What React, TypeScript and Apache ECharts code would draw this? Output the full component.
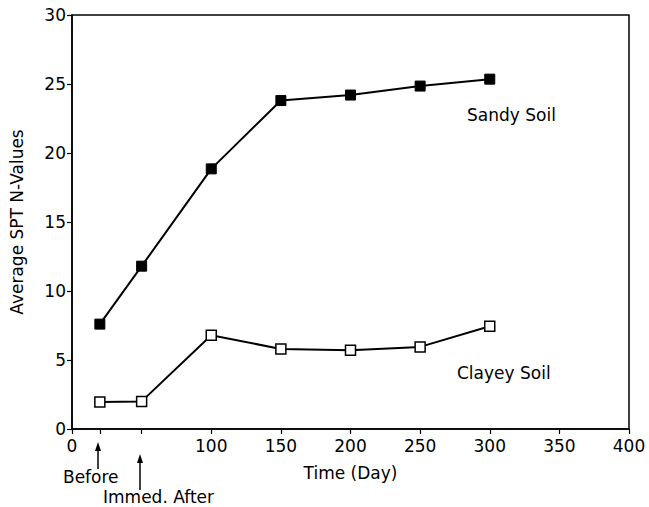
import React, { useEffect, useRef } from "react";
import * as echarts from "echarts";

const days = [20, 50, 100, 150, 200, 250, 300];
const sandyValues = [7.6, 11.8, 18.85, 23.8, 24.2, 24.85, 25.35];
const clayeyValues = [1.95, 2.0, 6.8, 5.8, 5.7, 5.95, 7.45];
const xTickValues = [0, 20, 50, 100, 150, 200, 250, 300, 350, 400];
const xLabelValues = [0, 100, 150, 200, 250, 300, 350, 400];
const seriesNames = ["Sandy Soil", "Clayey Soil"];

const FONT = "DejaVu Sans";

export default function App() {
  const ref = useRef<HTMLDivElement>(null);
  useEffect(() => {
    if (!ref.current) return;
    const chart = echarts.init(ref.current, null, { renderer: "svg" });
    const textStyle = { fontFamily: FONT, fontSize: 17, color: "#000" };
    chart.setOption({
      animation: false,
      backgroundColor: "#fff",
      grid: {
        left: 70,
        right: 20,
        top: 15,
        bottom: 78,
        show: true,
        borderColor: "#000",
        borderWidth: 1.5,
      },
      xAxis: {
        type: "value",
        min: 0,
        max: 400,
        interval: 50,
        name: "Time (Day)",
        nameLocation: "middle",
        nameGap: 35,
        nameTextStyle: textStyle,
        axisLine: { show: true, lineStyle: { color: "#000", width: 1.5 } },
        axisTick: { show: true, length: 5, customValues: xTickValues, lineStyle: { color: "#000", width: 1.2 } },
        axisLabel: { ...textStyle, margin: 8, customValues: xLabelValues },
        splitLine: { show: false },
      },
      yAxis: {
        type: "value",
        min: 0,
        max: 30,
        interval: 5,
        name: "Average SPT N-Values",
        nameLocation: "middle",
        nameGap: 47,
        nameTextStyle: textStyle,
        axisLine: { show: true, lineStyle: { color: "#000", width: 1.5 } },
        axisTick: { show: true, length: 5, lineStyle: { color: "#000", width: 1.2 } },
        axisLabel: { ...textStyle, margin: 6 },
        splitLine: { show: false },
      },
      series: [
        {
          name: seriesNames[0],
          type: "line",
          data: days.map((d, i) => [d, sandyValues[i]]),
          symbol: "rect",
          symbolSize: 10,
          itemStyle: { color: "#000", borderColor: "#000", borderWidth: 1 },
          lineStyle: { color: "#000", width: 2 },
        },
        {
          name: seriesNames[1],
          type: "line",
          data: days.map((d, i) => [d, clayeyValues[i]]),
          symbol: "rect",
          symbolSize: 10,
          itemStyle: { color: "#fff", borderColor: "#000", borderWidth: 1.5 },
          lineStyle: { color: "#000", width: 2 },
        },
      ],
      graphic: [
        {
          type: "text",
          left: 467,
          top: 106,
          style: { text: seriesNames[0], font: `17px "${FONT}"`, fill: "#000" },
        },
        {
          type: "text",
          left: 457,
          top: 364,
          style: { text: seriesNames[1], font: `17px "${FONT}"`, fill: "#000" },
        },
        {
          type: "line",
          shape: { x1: 98, y1: 446, x2: 98, y2: 469 },
          style: { stroke: "#000", lineWidth: 1.5 },
        },
        {
          type: "polygon",
          shape: { points: [[98, 442], [95, 451], [101, 451]] },
          style: { fill: "#000" },
        },
        {
          type: "line",
          shape: { x1: 140, y1: 458, x2: 140, y2: 490 },
          style: { stroke: "#000", lineWidth: 1.5 },
        },
        {
          type: "polygon",
          shape: { points: [[140, 454], [137, 463], [143, 463]] },
          style: { fill: "#000" },
        },
        {
          type: "text",
          left: 63,
          top: 468,
          style: { text: "Before", font: `17px "${FONT}"`, fill: "#000" },
        },
        {
          type: "text",
          left: 103,
          top: 488,
          style: { text: "Immed. After", font: `17px "${FONT}"`, fill: "#000" },
        },
      ],
    });
    return () => chart.dispose();
  }, []);
  return <div ref={ref} style={{ width: 649, height: 507, position: "absolute", left: 0, top: 0 }} />;
}
